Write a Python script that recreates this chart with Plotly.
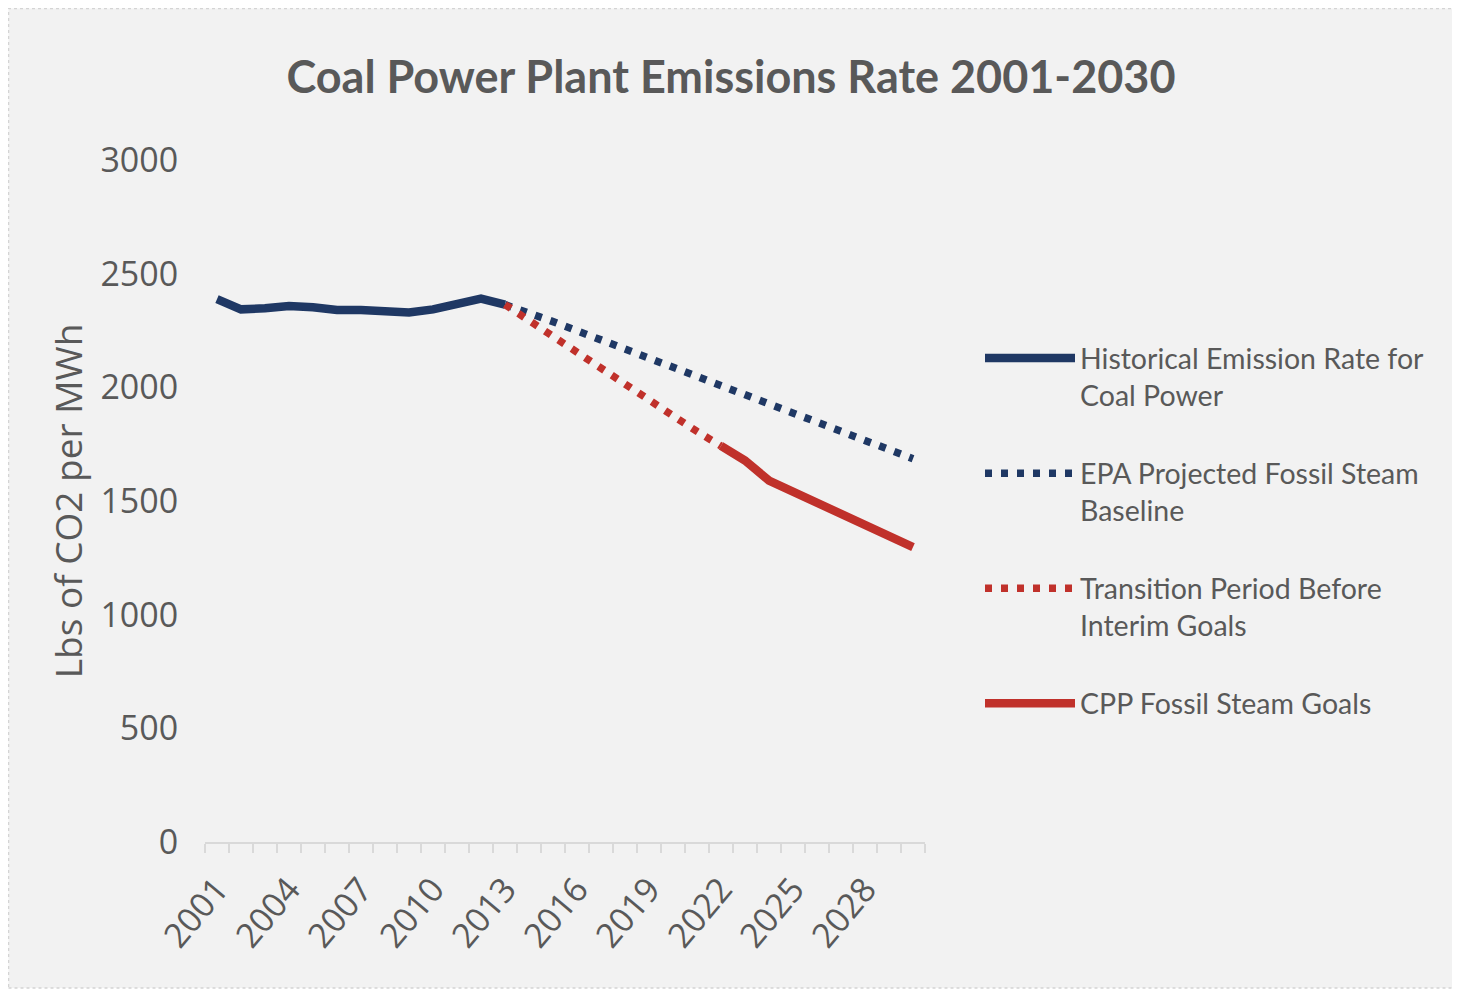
import plotly.graph_objects as go

hist_years = list(range(2001, 2014))
hist_vals = [2388, 2343, 2348, 2358, 2352, 2340, 2340, 2337, 2329, 2343, 2367, 2390, 2364]

epa_years = list(range(2013, 2031))
epa_vals = [2364, 2330, 2289, 2249, 2209, 2169, 2129, 2088, 2048, 2008, 1968, 1928,
            1887, 1847, 1807, 1767, 1727, 1686]

trans_years = list(range(2013, 2023))
trans_vals = [2364, 2293, 2224, 2154, 2085, 2015, 1945, 1875, 1806, 1742]

cpp_years = list(range(2022, 2031))
cpp_vals = [1742, 1678, 1590, 1540, 1491, 1444, 1393, 1345, 1297]

x_tick_vals = list(range(2001, 2031, 3))
y_tick_vals = [0, 500, 1000, 1500, 2000, 2500, 3000]

names = [
    "Historical Emission Rate for<br>Coal Power",
    "EPA Projected Fossil Steam<br>Baseline",
    "Transition Period Before<br>Interim Goals",
    "CPP Fossil Steam Goals<br> ",
]

NAVY = "#1F3864"
RED = "#C0312B"
TXT = "#595959"
LEGF = "Lato, sans-serif"
AXF = "Open Sans, sans-serif"

fig = go.Figure()
fig.add_trace(go.Scatter(x=hist_years, y=hist_vals, mode="lines", name=names[0],
                         legendgroup="a", line=dict(color=NAVY, width=8.5)))
fig.add_trace(go.Scatter(x=epa_years, y=epa_vals, mode="lines", name=names[1],
                         legendgroup="b", line=dict(color=NAVY, width=7.5, dash="7px,9px")))
fig.add_trace(go.Scatter(x=trans_years, y=trans_vals, mode="lines", name=names[2],
                         legendgroup="c", line=dict(color=RED, width=7.5, dash="7px,9px")))
fig.add_trace(go.Scatter(x=cpp_years, y=cpp_vals, mode="lines", name=names[3],
                         legendgroup="d", line=dict(color=RED, width=8.5)))

# figure is shown with an 8px page offset; coordinates below are figure pixels
W, H = 1452, 982
L, R, T, B = 197, 917, 152, 834
pw, ph = R - L, B - T

def px(xp):
    return (xp - L) / pw

def py(yp):
    return (B - yp) / ph

fig.update_layout(
    width=W, height=H,
    margin=dict(l=L, r=W - R, t=T, b=H - B, pad=0),
    paper_bgcolor="white",
    plot_bgcolor="rgba(0,0,0,0)",
    title=dict(text="Coal Power Plant Emissions Rate 2001-2030",
               font=dict(family=LEGF, size=45, color=TXT, weight="bold"),
               x=723 / W, xanchor="center", xref="container",
               y=1 - 69 / H, yanchor="middle", yref="container"),
    showlegend=True,
    legend=dict(x=px(972), xanchor="left", y=py(325), yanchor="top",
                font=dict(family=LEGF, size=28.5, color=TXT),
                bgcolor="rgba(0,0,0,0)", itemwidth=90, valign="top",
                traceorder="grouped", tracegroupgap=38),
    shapes=[dict(type="rect", xref="paper", yref="paper",
                 x0=px(0.5), x1=px(1447), y0=py(980), y1=py(0.5),
                 fillcolor="#F2F2F2", line=dict(color="#D4D4D4", width=1.5, dash="dot"),
                 layer="below")],
)

fig.update_xaxes(
    range=[2000.5, 2030.5], tickmode="array", tickvals=x_tick_vals,
    ticktext=[str(v) for v in x_tick_vals], tickangle=-50,
    ticks="outside", ticklen=12, tickcolor="rgba(0,0,0,0)",
    tickfont=dict(family=AXF, size=34, color=TXT),
    showgrid=False, zeroline=False, showline=True, linecolor="#D9D9D9", linewidth=1.5,
    minor=dict(tickmode="linear", tick0=2000.5, dtick=1, ticks="outside",
               ticklen=9, tickcolor="#D9D9D9", tickwidth=1.5, showgrid=False),
)
fig.update_yaxes(
    range=[0, 3000], tickmode="array", tickvals=y_tick_vals,
    ticks="outside", ticklen=19, tickcolor="rgba(0,0,0,0)",
    tickfont=dict(family=AXF, size=34, color=TXT),
    showgrid=False, zeroline=False, showline=False,
    title=dict(text="Lbs of CO2 per MWh", standoff=6,
               font=dict(family=AXF, size=37, color=TXT)),
)

fig.write_html("out.html")
